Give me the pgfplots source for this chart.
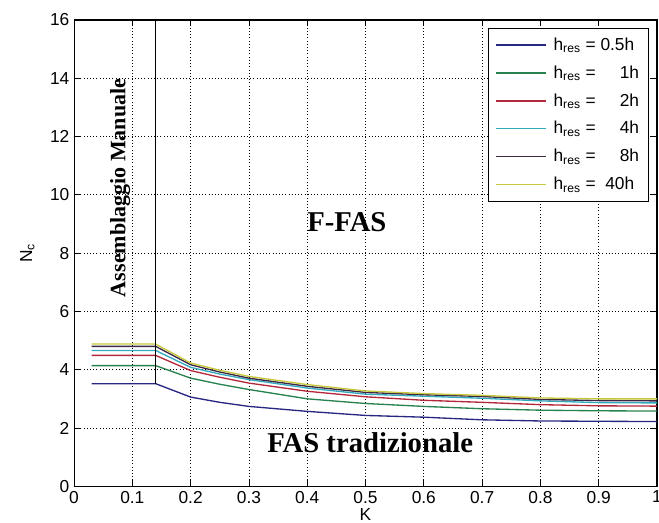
\documentclass[border=0pt]{standalone}
\usepackage{fontspec}
\setmainfont{Liberation Sans}
\newfontfamily\tnr{Liberation Serif}
\usepackage{pgfplots}
\pgfplotsset{compat=1.18}
\definecolor{c05}{RGB}{40,40,130}
\definecolor{c1}{RGB}{40,130,80}
\definecolor{c2}{RGB}{180,40,60}
\definecolor{c4}{RGB}{50,170,190}
\definecolor{c8}{RGB}{60,40,70}
\definecolor{c40}{RGB}{200,200,60}
\begin{document}
\begin{tikzpicture}
\begin{axis}[name=ax, scale only axis, width=437pt, height=349.5pt,
  xmin=0, xmax=1, ymin=0, ymax=16,
  xtick={0,0.1,0.2,0.3,0.4,0.5,0.6,0.7,0.8,0.9,1},
  xticklabels={0,0.1,0.2,0.3,0.4,0.5,0.6,0.7,0.8,0.9,1},
  ytick={0,2,4,6,8,10,12,14,16},
  yticklabels={0,2,4,6,8,10,12,14,16},
  tick align=inside, major tick length=4.5pt,
  every tick/.style={black, line width=0.6pt},
  axis line style={black, line width=0.8pt},
  grid=major, major grid style={black, dotted, line width=0.6pt},
  tick label style={font=\fontsize{13}{15}\selectfont},
  /pgf/number format/assume math mode=true,
  xlabel={K}, ylabel={N\textsubscript{c}},
  label style={font=\fontsize{13}{15}\selectfont},
  xlabel style={at={([yshift=-21pt]rel axis cs:0.5,0)}, anchor=center},
  ylabel style={at={([xshift=-35pt]rel axis cs:0,0.5)}, anchor=center},
  legend style={at={(rel axis cs:0.986,0.983)}, anchor=north east, draw=black, line width=0.6pt,
    font=\fontsize{13}{15}\selectfont, row sep=6pt, inner xsep=5pt, inner ysep=5pt},
  legend cell align=left,
  legend image code/.code={\draw[#1, line width=1.1pt] (0pt,0pt) -- (38pt,0pt); \path (41pt,0pt);},
]
\addplot[c05, line width=1pt] coordinates {(0.03,3.52)(0.14,3.52)(0.2,3.06)(0.25,2.88)(0.3,2.74)(0.4,2.57)(0.5,2.43)(0.6,2.37)(0.7,2.28)(0.8,2.24)(0.9,2.23)(1.0,2.22)};
\addplot[c1, line width=1pt] coordinates {(0.03,4.14)(0.14,4.14)(0.2,3.71)(0.25,3.50)(0.3,3.32)(0.4,3.00)(0.5,2.84)(0.6,2.74)(0.7,2.66)(0.8,2.61)(0.9,2.59)(1.0,2.58)};
\addplot[c2, line width=1pt] coordinates {(0.03,4.49)(0.14,4.49)(0.2,3.97)(0.25,3.74)(0.3,3.54)(0.4,3.26)(0.5,3.07)(0.6,2.95)(0.7,2.88)(0.8,2.80)(0.9,2.76)(1.0,2.75)};
\addplot[c4, line width=1pt] coordinates {(0.03,4.66)(0.14,4.66)(0.2,4.08)(0.25,3.85)(0.3,3.66)(0.4,3.37)(0.5,3.16)(0.6,3.09)(0.7,3.02)(0.8,2.93)(0.9,2.87)(1.0,2.86)};
\addplot[c8, line width=1pt] coordinates {(0.03,4.80)(0.14,4.80)(0.2,4.17)(0.25,3.92)(0.3,3.71)(0.4,3.43)(0.5,3.22)(0.6,3.14)(0.7,3.08)(0.8,2.98)(0.9,2.94)(1.0,2.93)};
\addplot[c40, line width=1pt] coordinates {(0.03,4.88)(0.14,4.88)(0.2,4.23)(0.25,3.98)(0.3,3.77)(0.4,3.49)(0.5,3.27)(0.6,3.18)(0.7,3.12)(0.8,3.03)(0.9,3.00)(1.0,3.00)};
\legend{h\textsubscript{res} = 0.5h, h\textsubscript{res} = \phantom{0.}\ 1h, h\textsubscript{res} = \phantom{0.}\ 2h, h\textsubscript{res} = \phantom{0.}\ 4h, h\textsubscript{res} = \phantom{0.}\ 8h, h\textsubscript{res} = \ 40h}
\addplot[black, line width=0.8pt, forget plot] coordinates {(0.14,3.52)(0.14,16)};
\node[rotate=90, font=\tnr\bfseries\fontsize{16.5}{19}\selectfont] at (axis cs:0.079,10.24) {Assemblaggio Manuale};
\node[font=\tnr\bfseries\fontsize{21.5}{25}\selectfont] at (axis cs:0.468,9.07) {F-FAS};
\node[font=\tnr\bfseries\fontsize{21.5}{25}\selectfont] at (axis cs:0.508,1.5) {FAS tradizionale};
\end{axis}
\pgfresetboundingbox
\path[use as bounding box] ([xshift=-55.5pt,yshift=-27pt]ax.south west) rectangle ([xshift=1.5pt,yshift=15pt]ax.north east);
\end{tikzpicture}
\end{document}
